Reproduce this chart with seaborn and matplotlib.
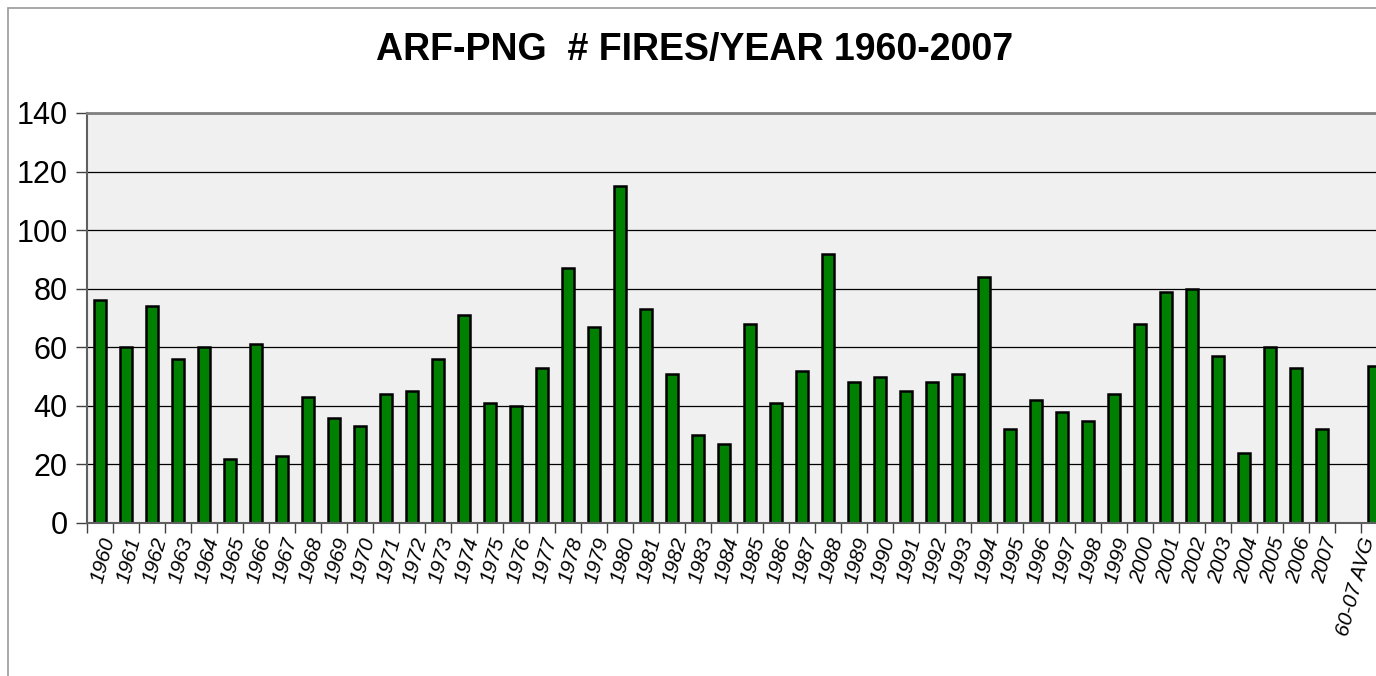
import numpy as np
import pandas as pd
import matplotlib
matplotlib.use("Agg")
import matplotlib.pyplot as plt
import matplotlib.transforms as mtransforms
import seaborn as sns
from matplotlib.lines import Line2D

# 연도별 화재 건수
years = [str(y) for y in range(1960, 2008)]
fires = [76, 60, 74, 56, 60, 22, 61, 23, 43, 36, 33, 44, 45, 56, 71, 41,
         40, 53, 87, 67, 115, 73, 51, 30, 27, 68, 41, 52, 92, 48, 50, 45,
         48, 51, 84, 32, 42, 38, 35, 44, 68, 79, 80, 57, 24, 60, 53, 32]
avg_label = "60-07 AVG"
avg_value = 53.5
y_ticks = [0, 20, 40, 60, 80, 100, 120, 140]

# 빈 칸 하나 두고 평균 막대
order = years + [" ", avg_label]
df = pd.DataFrame({"year": years + [avg_label], "fires": fires + [avg_value]})

sns.set_theme(style="white")
plt.rcParams["font.family"] = ["Liberation Sans", "DejaVu Sans"]
plt.rcParams["text.color"] = "black"
plt.rcParams["xtick.color"] = "black"
plt.rcParams["ytick.color"] = "black"

fig = plt.figure(figsize=(13.76, 6.76), dpi=100)
ax = fig.add_axes([87 / 1376, 153 / 676, 1300 / 1376, 410 / 676])
ax.set_facecolor("#f0f0f0")

sns.barplot(data=df, x="year", y="fires", order=order, color="#008000",
            saturation=1, width=0.44, edgecolor="black", linewidth=1.8, ax=ax)

ax.set_ylim(0, 140)
ax.set_xlim(-0.5, len(order) - 0.5)
ax.set_yticks(y_ticks)
ax.yaxis.grid(True, color="black", linewidth=0.9)
ax.set_axisbelow(True)
ax.set_xlabel("")
ax.set_ylabel("")

# y축 눈금
ax.tick_params(axis="y", labelsize=22, length=8, width=1, color="#404040",
               labelcolor="black", pad=6, left=True)
# x축: 라벨은 가운데, 눈금은 칸 경계
ax.set_xticks(range(len(order)))
ax.set_xticklabels(order, rotation=75, fontsize=15, style="italic",
                   ha="right", rotation_mode="anchor", color="black")
ax.tick_params(axis="x", which="major", length=0, pad=9)
ax.set_xticks(np.arange(-0.5, len(order), 1), minor=True)
ax.tick_params(axis="x", which="minor", length=7, width=1, color="#404040",
               bottom=True)

# 평균 라벨이 오른쪽 끝에서 잘리지 않게 조금 왼쪽으로
last = ax.get_xticklabels()[-1]
last.set_transform(last.get_transform() +
                   mtransforms.ScaledTranslation(-10 / 72, 0, fig.dpi_scale_trans))

for side in ["left", "bottom"]:
    ax.spines[side].set_color("#606060")
    ax.spines[side].set_linewidth(1.5)
ax.spines["top"].set_color("#808080")
ax.spines["top"].set_linewidth(2)
ax.spines["right"].set_visible(False)

fig.text(695 / 1376, 1 - 50 / 676, "ARF-PNG  # FIRES/YEAR 1960-2007",
         ha="center", va="center", fontsize=27, fontweight="bold",
         color="black")

# 바깥 테두리
fig.add_artist(Line2D([8 / 1376, 8 / 1376], [0, 1 - 8 / 676],
                      color="#9a9a9a", linewidth=1.2))
fig.add_artist(Line2D([8 / 1376, 1], [1 - 8 / 676, 1 - 8 / 676],
                      color="#9a9a9a", linewidth=1.2))

fig.savefig("out.png", dpi=100)
